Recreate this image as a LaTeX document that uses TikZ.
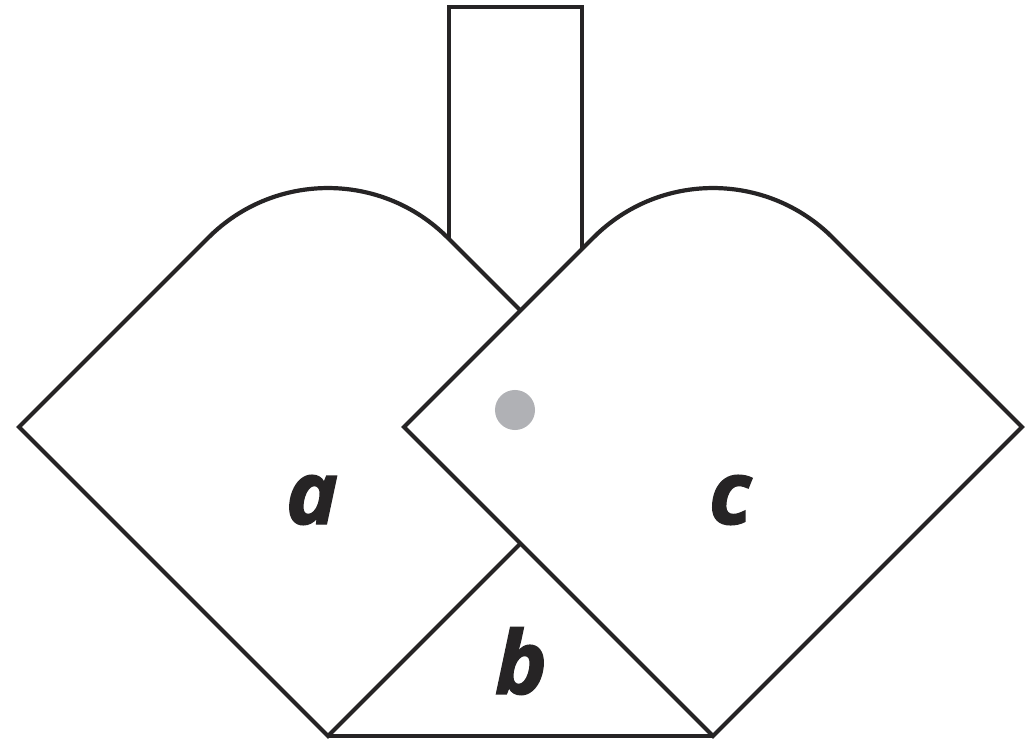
\documentclass[tikz,border=0pt]{standalone}
\usepackage{fontspec}
\usepackage{tikz}
\usetikzlibrary{calc}
\newfontfamily\labelfont[BoldItalicFeatures={FakeBold=1.5}]{Open Sans}
\definecolor{Ink}{HTML}{262425}
\definecolor{Dot}{HTML}{B0B1B5}
\tikzset{
  outline/.style={draw=Ink,line width=0.042cm,fill=white,line join=miter},
  lbl/.style={text=Ink,font=\labelfont\bfseries\itshape\fontsize{25}{25}\selectfont,inner sep=0pt}
}

\begin{document}
\begin{tikzpicture}[x=0.01cm,y=-0.01cm]
  \useasboundingbox (0,0) rectangle (1034,740);
  % stem
  \draw[outline] (449,7) rectangle (582,320);
  % left piece
  \draw[outline] (328,736) -- (19,427) [rounded corners=1.69cm] -- (328,118) [sharp corners] -- (637,427) -- cycle;
  % right piece
  \draw[outline] (713,736) -- (404,427) [rounded corners=1.69cm] -- (713,118) [sharp corners] -- (1022,427) -- cycle;
  \draw[draw=Ink,line width=0.042cm] (328,736) -- (713,736);
  \fill[Dot] (515,410) circle (0.2cm);
  \node[lbl] (la) at (312,500) {a};
  \node[lbl] (lb) at (521,661) {b};
  \node[lbl] (lc) at (730,500) {c};
\end{tikzpicture}
\end{document}
